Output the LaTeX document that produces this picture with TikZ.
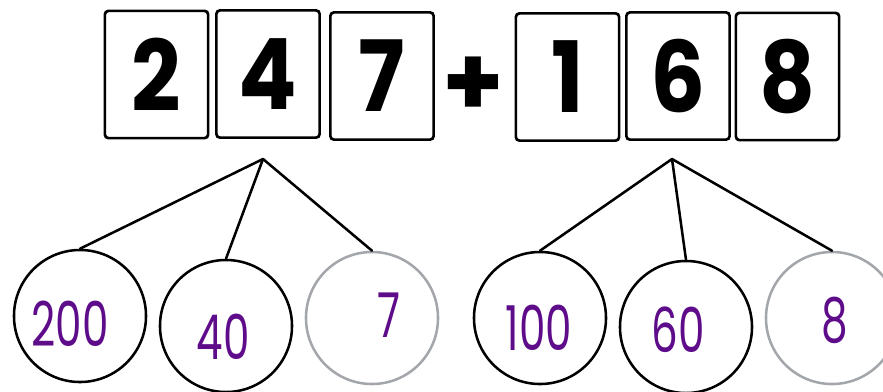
\documentclass[tikz,border=0pt]{standalone}
\usepackage{graphicx}
\usepackage{fontspec}
\usepackage{tikz}
\usetikzlibrary{positioning}
\newfontfamily\cardfont{Poppins}
\newfontfamily\handfont{Poppins}
\definecolor{inkpurple}{RGB}{94,12,138}
\definecolor{faintgrey}{RGB}{163,166,171}
\tikzset{
  card/.style     = {rectangle, rounded corners=2.5pt, draw, line width=1.9pt,
                     minimum width=2.58cm, minimum height=3.18cm, inner sep=0pt,
                     font=\cardfont\bfseries\fontsize{70}{70}\selectfont},
  plussign/.style = {inner sep=0pt, font=\cardfont\bfseries\fontsize{70}{70}\selectfont},
  part/.style     = {circle, draw, line width=1.8pt, minimum size=3.3cm, inner sep=0pt},
  partfaint/.style= {part, draw=faintgrey},
  written/.style  = {inner sep=0pt, text=inkpurple, font=\handfont\fontsize{44}{44}\selectfont},
  branch/.style   = {line width=1.8pt, line cap=round},
}
\newcommand{\hand}[1]{\scalebox{0.68}[1]{#1}}
\newcommand{\digit}[1]{\scalebox{0.88}[1]{#1}}

\begin{document}
\begin{tikzpicture}[x=0.025cm, y=-0.025cm]
  \useasboundingbox (0,0) rectangle (883,391);
  \clip (0,0) rectangle (883,391);

  % first number
  \node[card] (c2) at (156.5,74.5) {\digit{2}};
  \node[card] (c4) at (268,74) {\digit{4}};
  \node[card] (c7) at (382,76) {\digit{7}};
  \node[plussign] (plus) at (473.5,87) {+};
  % second number
  \node[card] (c1) at (567.5,77) {\digit{1}};
  \node[card] (c6) at (678,76) {\digit{6}};
  \node[card] (c8) at (787.5,76.5) {\digit{8}};

  % split points under the cards
  \coordinate (splitA) at (263,159);
  \coordinate (splitB) at (672,159);

  % parts of 247
  \node[part] (p200) at (80,316) {};
  \node[part] (p40) at (226,326) {};
  \node[partfaint] (p7) at (372,318) {};
  % parts of 168
  \node[part] (p100) at (540,318) {};
  \node[part] (p60) at (686,327) {};
  \node[partfaint] (p8) at (832,318) {};

  \draw[branch] (splitA) -- (p200.north);
  \draw[branch] (splitA) -- (p40.north);
  \draw[branch] (splitA) -- (p7.north);
  \draw[branch] (splitB) -- (p100.north);
  \draw[branch] (splitB) -- (p60.north);
  \draw[branch] (splitB) -- (p8.north);

  % handwritten values
  \node[written] (t200) at (70,324) {\hand{200}};
  \node[written] (t40) at (223,337) {\hand{40}};
  \node[written] (t7) at (389,315) {\hand{7}};
  \node[written] (t100) at (539,328) {\hand{100}};
  \node[written] (t60) at (678,330) {\hand{60}};
  \node[written] (t8) at (835,320) {\hand{8}};
\end{tikzpicture}
\end{document}
